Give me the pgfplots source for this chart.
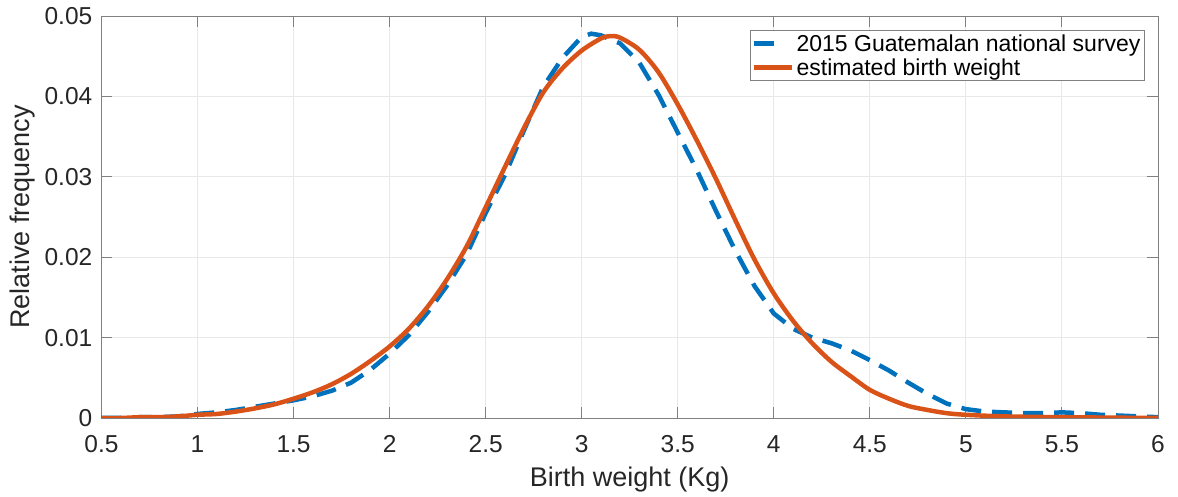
\documentclass[border=0pt]{standalone}
\usepackage{fontspec}
\setmainfont{Liberation Sans}
\usepackage{pgfplots}
\pgfplotsset{compat=1.18}

\definecolor{mblue}{rgb}{0,0.447,0.741}
\definecolor{morange}{rgb}{0.85,0.325,0.098}
\definecolor{axgray}{gray}{0.5}
\definecolor{txgray}{gray}{0.15}

\pgfplotsset{
    long legend/.style={legend image code/.code={\draw[##1] (0pt,0pt) -- (38pt,0pt);}},
    short legend/.style={legend image code/.code={\draw[##1] (0pt,0pt) -- (20pt,0pt);}},
}

\begin{document}
\begin{tikzpicture}
\useasboundingbox (-101.5pt,-79pt) rectangle (1076.5pt,418pt);
\begin{axis}[
    at={(0,0)}, anchor=south west,
    scale only axis,
    width=1056.5pt, height=402pt,
    xmin=0.5, xmax=6, ymin=0, ymax=0.05,
    xtick={0.5,1,...,6},
    xticklabels={0.5,1,1.5,2,2.5,3,3.5,4,4.5,5,5.5,6},
    ytick={0,0.01,0.02,0.03,0.04,0.05},
    yticklabels={0,0.01,0.02,0.03,0.04,0.05},
    scaled y ticks=false,
    tick align=inside,
    major tick length=11pt,
    tick style={axgray, line width=0.8pt},
    axis line style={axgray, line width=0.8pt},
    grid=major,
    major grid style={gray!18, line width=0.8pt},
    ticklabel style={font=\fontsize{24.5}{28}\selectfont, text=txgray, inner sep=0pt},
    xticklabel style={yshift=-17pt},
    yticklabel style={xshift=-9pt},
    xlabel={Birth weight (Kg)},
    ylabel={Relative frequency},
    label style={font=\fontsize{27}{32}\selectfont, text=txgray},
    xlabel style={at={(axis description cs:0.5,-0.152)}, anchor=center},
    ylabel style={at={(axis description cs:-0.0745,0.5)}, anchor=center},
    legend style={
        at={(0.9877,0.965)}, anchor=north east,
        font=\fontsize{23}{27}\selectfont,
        draw=axgray, line width=0.8pt, text=black,
        inner xsep=2pt, inner ysep=2pt,
        row sep=2pt,
    },
    legend cell align=left,
    long legend,
]

\addplot[mblue, line width=4.5pt, dash pattern=on 20pt off 11pt, short legend] coordinates {
(0.5,0) (0.6,0) (0.7,0.0001) (0.8,0.0001) (0.9,0.0002) (1.0,0.0005)
(1.1,0.0007) (1.2,0.0010) (1.3,0.0014) (1.4,0.0018) (1.5,0.0022)
(1.6,0.0027) (1.7,0.0034) (1.8,0.0044) (1.9,0.0060) (2.0,0.0080)
(2.1,0.0103) (2.2,0.0132) (2.3,0.0165) (2.4,0.0203) (2.5,0.0255)
(2.6,0.0302) (2.7,0.0358) (2.8,0.0412) (2.9,0.0448) (3.0,0.0474)
(3.05,0.0478) (3.1,0.0476) (3.2,0.0466) (3.3,0.0442) (3.4,0.0402)
(3.5,0.0355) (3.6,0.0308) (3.7,0.0257) (3.8,0.0208) (3.9,0.0164)
(4.0,0.0130) (4.1,0.0111) (4.2,0.0100) (4.3,0.0093) (4.4,0.0084)
(4.5,0.0072) (4.6,0.0059) (4.7,0.0044) (4.8,0.0030) (4.9,0.0018)
(5.0,0.0011) (5.1,0.0008) (5.2,0.0007) (5.3,0.0006) (5.4,0.0006)
(5.5,0.0007) (5.6,0.0006) (5.7,0.0004) (5.8,0.0003) (5.9,0.0002)
(6.0,0.0001)
};
\addlegendentry{2015 Guatemalan national survey}

\addplot[morange, line width=4.5pt, smooth] coordinates {
(0.5,0) (0.6,0) (0.7,0.0001) (0.8,0.0001) (0.9,0.0002) (1.0,0.0004)
(1.1,0.0005) (1.2,0.0008) (1.3,0.0012) (1.4,0.0017) (1.5,0.0024)
(1.6,0.0032) (1.7,0.0042) (1.8,0.0055) (1.9,0.0071) (2.0,0.0089)
(2.1,0.0111) (2.2,0.0139) (2.3,0.0173) (2.4,0.0213) (2.5,0.0262)
(2.6,0.0312) (2.7,0.0361) (2.8,0.0405) (2.9,0.0435) (3.0,0.0457)
(3.1,0.0472) (3.15,0.0475) (3.2,0.0473) (3.3,0.0458) (3.4,0.0430)
(3.5,0.0390) (3.6,0.0345) (3.7,0.0297) (3.8,0.0246) (3.9,0.0197)
(4.0,0.0155) (4.1,0.0121) (4.2,0.0093) (4.3,0.0070) (4.4,0.0052)
(4.5,0.0035) (4.6,0.0024) (4.7,0.0015) (4.8,0.0010) (4.9,0.0006)
(5.0,0.0004) (5.2,0.0002) (5.5,0.0001) (6.0,0)
};
\addlegendentry{estimated birth weight}

\end{axis}
\end{tikzpicture}
\end{document}
